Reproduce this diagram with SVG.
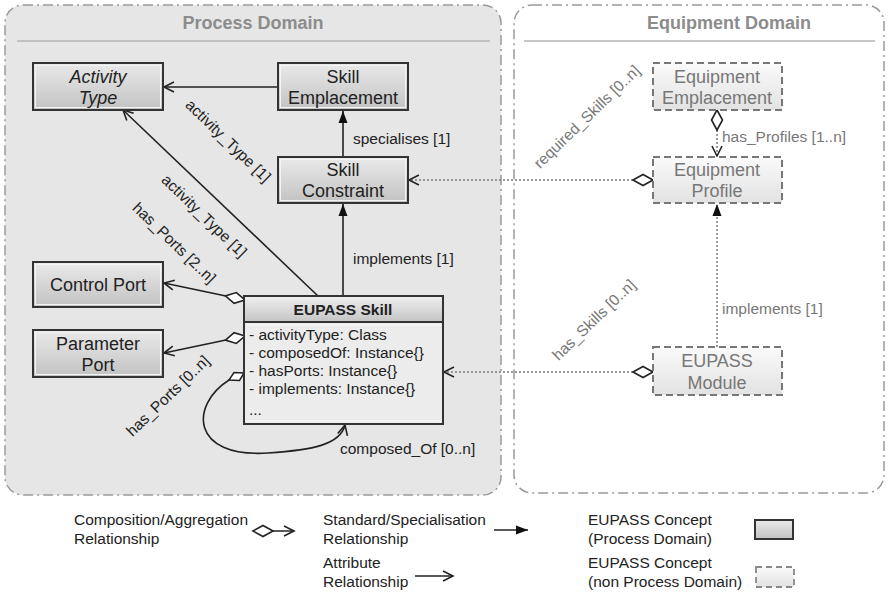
<svg xmlns="http://www.w3.org/2000/svg" width="890" height="594" viewBox="0 0 890 594">
  <style>
    text { font-family: "Liberation Sans", Arial, sans-serif; fill: #222; }
    .domain { stroke: #9a9a9a; stroke-width: 1.5; stroke-dasharray: 10 4 2 4; }
    .domainTitle { font-size: 18px; font-weight: bold; fill: #8c8c8c; text-anchor: middle; }
    .sep { stroke: #b4b4b4; stroke-width: 1.5; }
    .pnode { fill: url(#pgrad); stroke: #333; stroke-width: 2; }
    .pinner { fill: none; stroke: #f4f4f4; stroke-width: 1; }
    .enode { fill: url(#egrad); stroke: #777; stroke-width: 2; stroke-dasharray: 7 4; }
    .nlabel { font-size: 18px; text-anchor: middle; }
    .elabel { font-size: 18px; text-anchor: middle; fill: #777; }
    .attr { font-size: 15.5px; }
    .clabel { font-size: 15.5px; }
    .glabel { font-size: 15.5px; fill: #777; }
    .legend { font-size: 15.5px; }
    .solid { fill: none; stroke: #222; stroke-width: 1.6; }
    .dotted { fill: none; stroke: #7a7a7a; stroke-width: 1.5; stroke-dasharray: 2 2; }
  </style>
  <defs>
    <linearGradient id="pgrad" x1="0" y1="0" x2="0" y2="1">
      <stop offset="0" stop-color="#eaeaea"/>
      <stop offset="1" stop-color="#c2c2c2"/>
    </linearGradient>
    <linearGradient id="hgrad" x1="0" y1="0" x2="0" y2="1">
      <stop offset="0" stop-color="#eeeeee"/>
      <stop offset="1" stop-color="#c4c4c4"/>
    </linearGradient>
    <linearGradient id="egrad" x1="0" y1="0" x2="0" y2="1">
      <stop offset="0" stop-color="#fafafa"/>
      <stop offset="1" stop-color="#e2e2e2"/>
    </linearGradient>
    <marker id="open" markerUnits="userSpaceOnUse" markerWidth="12" markerHeight="12" refX="10" refY="5" orient="auto" overflow="visible">
      <path d="M0,0 L10,5 L0,10" fill="none" stroke="#222" stroke-width="1.6" stroke-dasharray="none"/>
    </marker>
    <marker id="filled" markerUnits="userSpaceOnUse" markerWidth="14" markerHeight="10" refX="12" refY="4.5" orient="auto" overflow="visible">
      <path d="M0,0 L12,4.5 L0,9 Z" fill="#111" stroke="none"/>
    </marker>
    <marker id="diamond" markerUnits="userSpaceOnUse" markerWidth="22" markerHeight="12" refX="0" refY="5.5" orient="auto" overflow="visible">
      <path d="M0,5.5 L10,0 L20,5.5 L10,11 Z" fill="#fff" stroke="#222" stroke-width="1.6" stroke-dasharray="none"/>
    </marker>
  </defs>

  <!-- domain panels -->
  <g id="process-domain">
    <rect class="domain" x="5" y="5" width="496" height="490" rx="18" fill="#e6e6e6"/>
    <text class="domainTitle" x="253" y="29">Process Domain</text>
    <line class="sep" x1="17" y1="41" x2="490" y2="41"/>
  </g>
  <g id="equipment-domain">
    <rect class="domain" x="514" y="5" width="370" height="488" rx="18" fill="#ffffff"/>
    <text class="domainTitle" x="729" y="29">Equipment Domain</text>
    <line class="sep" x1="524" y1="41" x2="875" y2="41"/>
  </g>

  <!-- connectors -->
  <g id="connectors">
    <line class="solid" x1="278" y1="87" x2="164" y2="87" marker-end="url(#open)"/>
    <line class="solid" x1="343" y1="157" x2="343" y2="111" marker-end="url(#filled)"/>
    <line class="solid" x1="343" y1="296" x2="343" y2="204" marker-end="url(#filled)"/>
    <line class="solid" x1="318" y1="296" x2="123" y2="110" marker-end="url(#open)"/>
    <line class="solid" x1="245" y1="300" x2="164" y2="283" marker-start="url(#diamond)" marker-end="url(#open)"/>
    <line class="solid" x1="245" y1="336" x2="164" y2="353" marker-start="url(#diamond)" marker-end="url(#open)"/>
    <path class="solid" d="M244,373 L229,380 C190,405 190,458 268,453 C312,450 340,445 345,425" marker-end="url(#open)"/>
    <path d="M244,373 L239.5,380.5 L229,380 L234,372.5 Z" fill="#fff" stroke="#222" stroke-width="1.5"/>
    <line class="dotted" x1="653" y1="180" x2="409" y2="180" marker-start="url(#diamond)" marker-end="url(#open)"/>
    <line class="dotted" x1="653" y1="372" x2="444" y2="372" marker-start="url(#diamond)" marker-end="url(#open)"/>
    <line class="dotted" x1="717" y1="110" x2="717" y2="156" marker-start="url(#diamond)" marker-end="url(#open)"/>
    <line class="dotted" x1="717" y1="347" x2="717" y2="204" marker-end="url(#filled)"/>

    <text class="clabel" x="353" y="144">specialises [1]</text>
    <text class="clabel" x="353" y="264">implements [1]</text>
    <text class="clabel" x="340" y="454">composed_Of [0..n]</text>
    <text class="clabel" text-anchor="middle" transform="translate(228,141) rotate(44)" y="5">activity_Type [1]</text>
    <text class="clabel" text-anchor="middle" transform="translate(204,216) rotate(44)" y="5">activity_Type [1]</text>
    <text class="clabel" text-anchor="middle" transform="translate(174,243) rotate(44)" y="5">has_Ports [2..n]</text>
    <text class="clabel" text-anchor="middle" transform="translate(168,396) rotate(-44)" y="5">has_Ports [0..n]</text>
    <text class="glabel" text-anchor="middle" transform="translate(587,117) rotate(-44)" y="5">required_Skills [0..n]</text>
    <text class="glabel" text-anchor="middle" transform="translate(594,320) rotate(-44)" y="5">has_Skills [0..n]</text>
    <text class="glabel" x="722" y="142">has_Profiles [1..n]</text>
    <text class="glabel" x="722" y="314">implements [1]</text>
  </g>

  <!-- process domain nodes -->
  <g id="activity-type">
    <rect class="pnode" x="33" y="63" width="130" height="47"/>
    <rect class="pinner" x="35.5" y="65.5" width="125" height="42"/>
    <text class="nlabel" x="98" y="83" font-style="italic">Activity</text>
    <text class="nlabel" x="98" y="104" font-style="italic">Type</text>
  </g>
  <g id="skill-emplacement">
    <rect class="pnode" x="278" y="63" width="130" height="47"/>
    <rect class="pinner" x="280.5" y="65.5" width="125" height="42"/>
    <text class="nlabel" x="343" y="83">Skill</text>
    <text class="nlabel" x="343" y="104">Emplacement</text>
  </g>
  <g id="skill-constraint">
    <rect class="pnode" x="278" y="157" width="130" height="46"/>
    <rect class="pinner" x="280.5" y="159.5" width="125" height="41"/>
    <text class="nlabel" x="343" y="176">Skill</text>
    <text class="nlabel" x="343" y="197">Constraint</text>
  </g>
  <g id="control-port">
    <rect class="pnode" x="33" y="262" width="130" height="45"/>
    <rect class="pinner" x="35.5" y="264.5" width="125" height="40"/>
    <text class="nlabel" x="98" y="291">Control Port</text>
  </g>
  <g id="parameter-port">
    <rect class="pnode" x="33" y="330" width="130" height="47"/>
    <rect class="pinner" x="35.5" y="332.5" width="125" height="42"/>
    <text class="nlabel" x="98" y="350">Parameter</text>
    <text class="nlabel" x="98" y="371">Port</text>
  </g>
  <g id="eupass-skill">
    <rect x="244" y="296" width="199" height="128" fill="#ececec" stroke="#333" stroke-width="2"/>
    <rect x="245" y="297" width="197" height="25" fill="url(#hgrad)"/>
    <line x1="244" y1="322" x2="443" y2="322" stroke="#333" stroke-width="2"/>
    <line x1="246" y1="325" x2="441" y2="325" stroke="#fafafa" stroke-width="1"/>
    <line x1="246" y1="421" x2="441" y2="421" stroke="#fafafa" stroke-width="1"/>
    <text x="343" y="315" font-size="15.5" font-weight="bold" text-anchor="middle">EUPASS Skill</text>
    <text class="attr" x="249" y="340">- activityType: Class</text>
    <text class="attr" x="249" y="358">- composedOf: Instance{}</text>
    <text class="attr" x="249" y="376">- hasPorts: Instance{}</text>
    <text class="attr" x="249" y="394">- implements: Instance{}</text>
    <text class="attr" x="249" y="415">...</text>
  </g>

  <!-- equipment domain nodes -->
  <g id="equipment-emplacement">
    <rect class="enode" x="653" y="63" width="129" height="47"/>
    <text class="elabel" x="717" y="83">Equipment</text>
    <text class="elabel" x="717" y="104">Emplacement</text>
  </g>
  <g id="equipment-profile">
    <rect class="enode" x="653" y="157" width="129" height="46"/>
    <text class="elabel" x="717" y="176">Equipment</text>
    <text class="elabel" x="717" y="197">Profile</text>
  </g>
  <g id="eupass-module">
    <rect class="enode" x="653" y="347" width="129" height="48"/>
    <text class="elabel" x="717" y="367">EUPASS</text>
    <text class="elabel" x="717" y="389">Module</text>
  </g>

  <!-- legend -->
  <g id="legend">
    <text class="legend" x="74" y="525">Composition/Aggregation</text>
    <text class="legend" x="74" y="544">Relationship</text>
    <line class="solid" x1="253" y1="531" x2="294" y2="531" marker-start="url(#diamond)" marker-end="url(#open)"/>
    <text class="legend" x="323" y="525">Standard/Specialisation</text>
    <text class="legend" x="323" y="544">Relationship</text>
    <line class="solid" x1="494" y1="530" x2="528" y2="530" marker-end="url(#filled)"/>
    <text class="legend" x="323" y="568">Attribute</text>
    <text class="legend" x="323" y="587">Relationship</text>
    <line class="solid" x1="415" y1="576" x2="453" y2="576" marker-end="url(#open)"/>
    <text class="legend" x="588" y="525">EUPASS Concept</text>
    <text class="legend" x="588" y="544">(Process Domain)</text>
    <rect class="pnode" x="755" y="520" width="38" height="19"/>
    <text class="legend" x="588" y="568">EUPASS Concept</text>
    <text class="legend" x="588" y="587">(non Process Domain)</text>
    <rect x="756" y="567" width="38" height="20" fill="url(#egrad)" stroke="#888" stroke-width="1.8" stroke-dasharray="6 4"/>
  </g>
</svg>
